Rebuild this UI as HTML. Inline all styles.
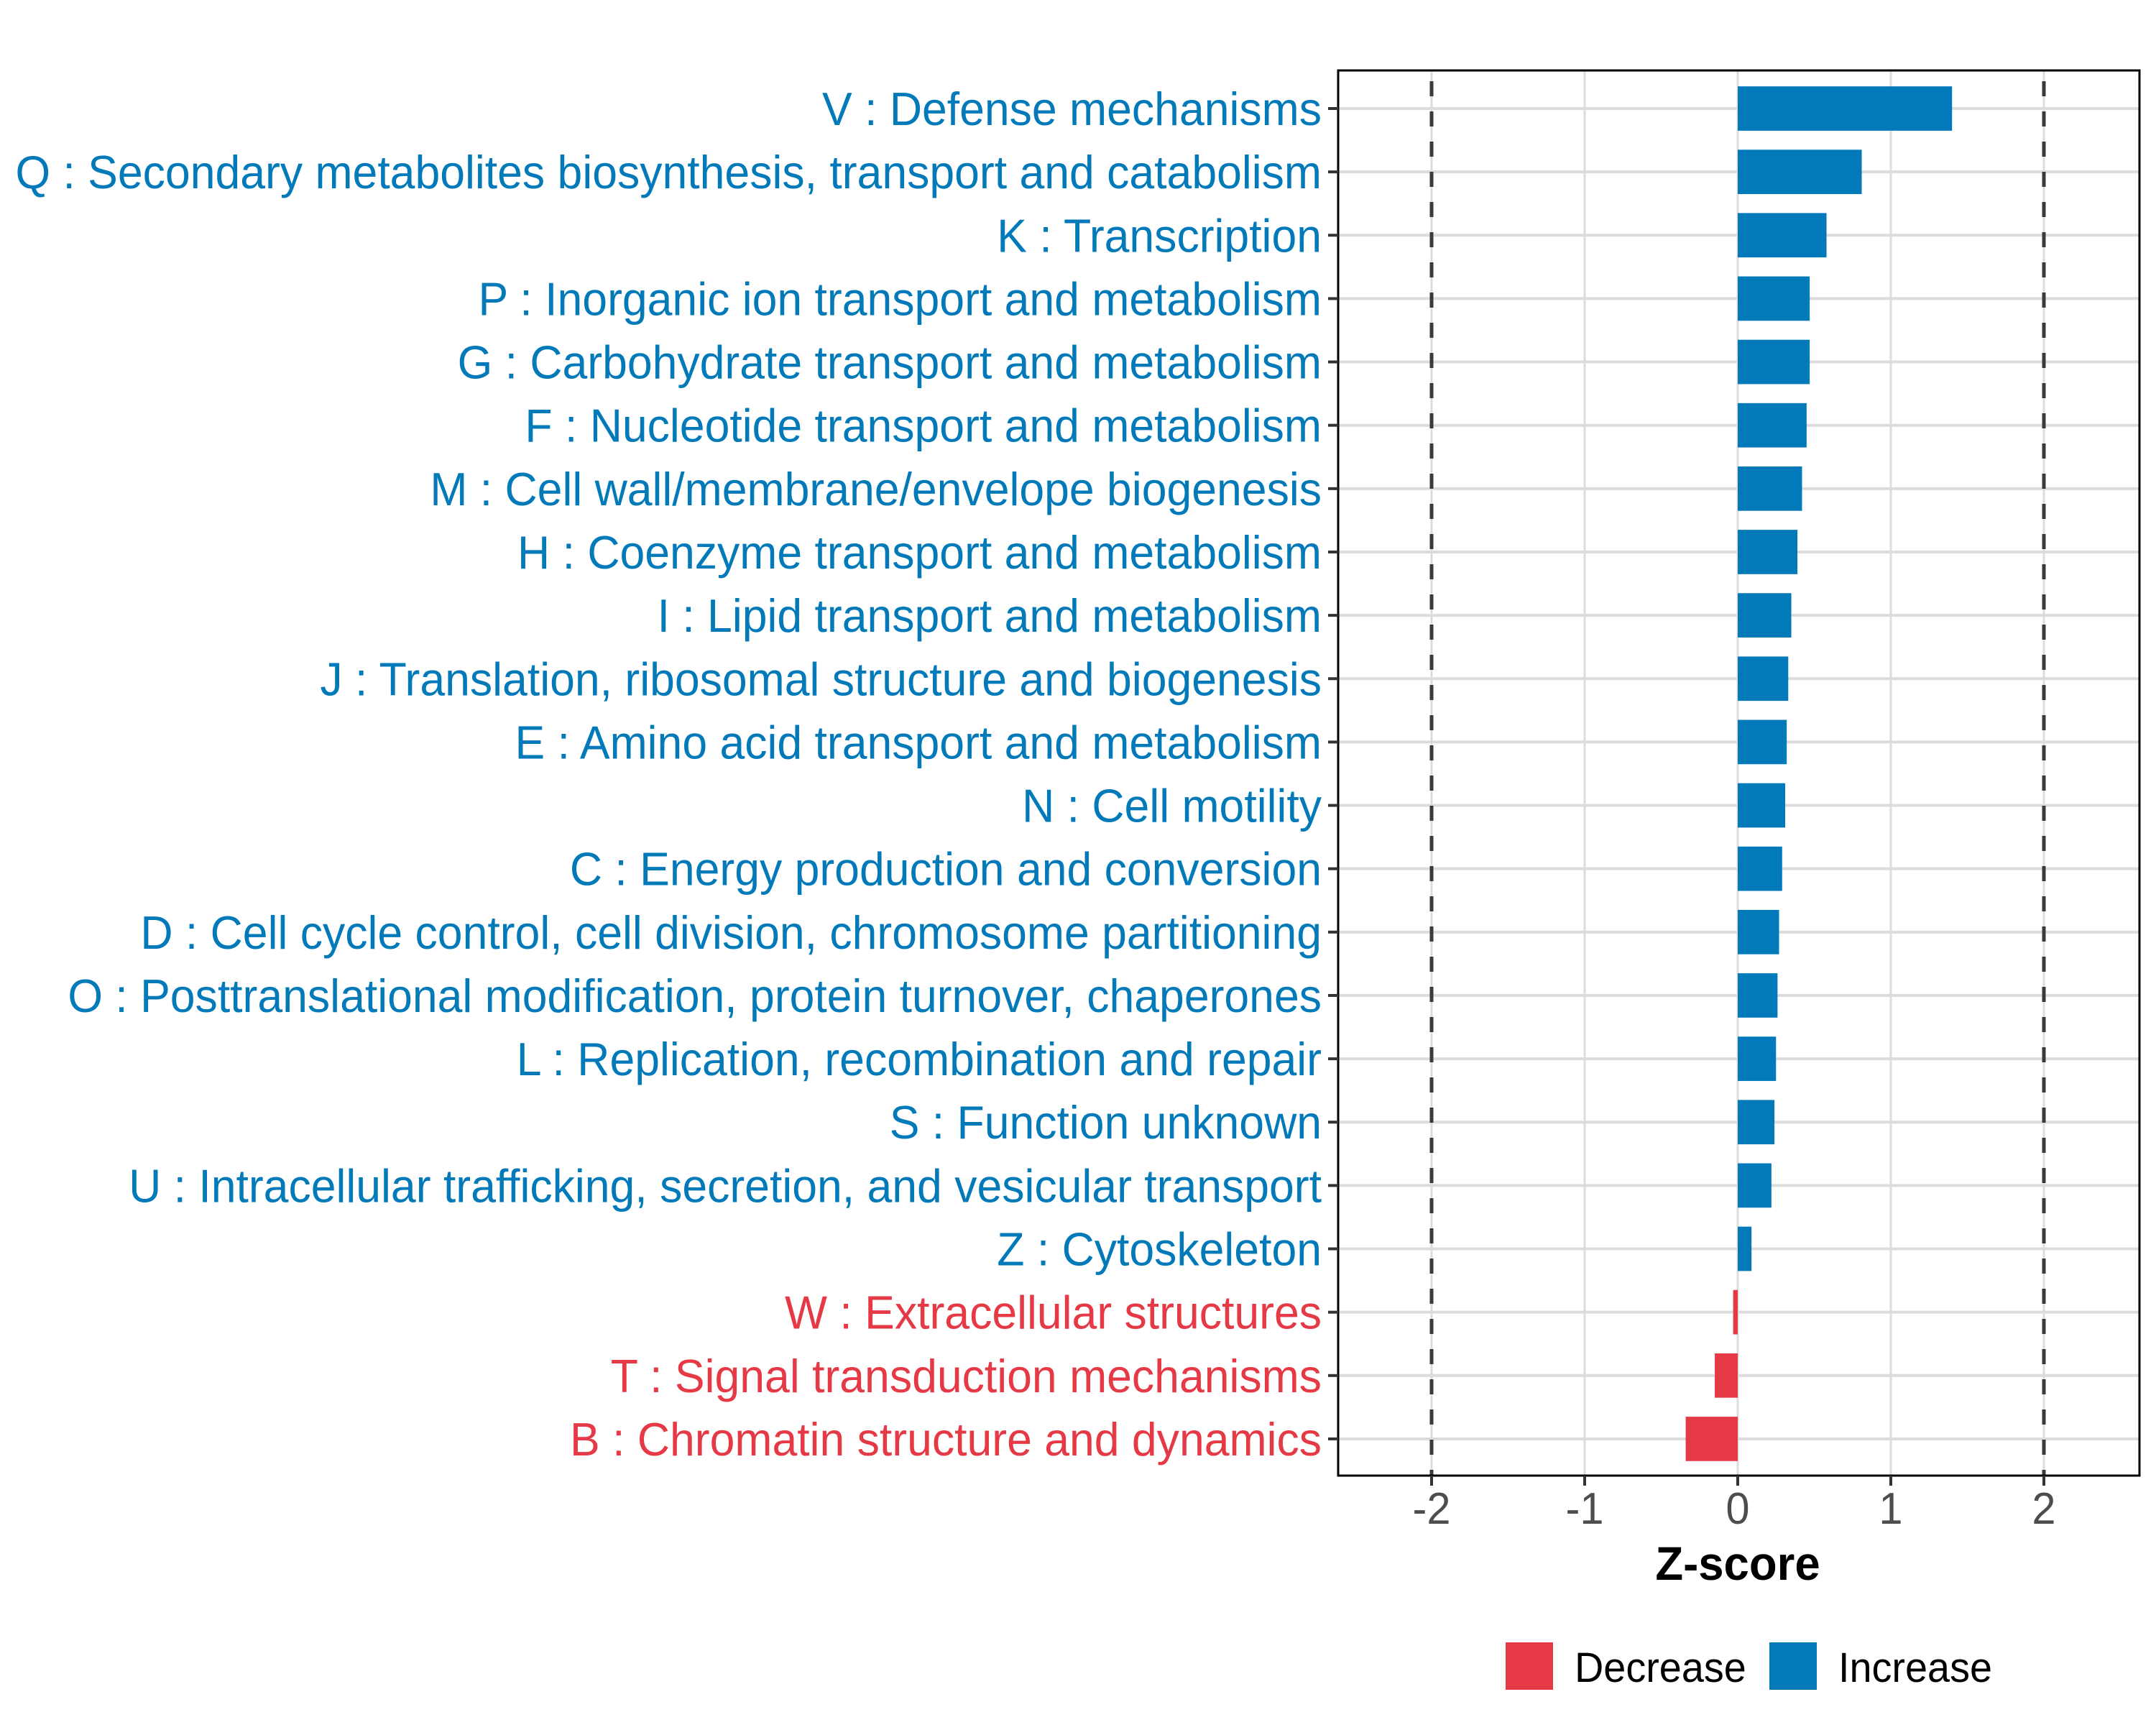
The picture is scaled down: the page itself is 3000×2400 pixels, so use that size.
<!DOCTYPE html>
<html><head><meta charset="utf-8"><style>
html,body{margin:0;padding:0;background:#fff;}
svg{display:block;font-family:"Liberation Sans",Arial,sans-serif;}
</style></head><body>
<svg id="chart" width="3000" height="2400" viewBox="0 0 3000 2400" xmlns="http://www.w3.org/2000/svg">
<rect width="3000" height="2400" fill="#fff"/>
<g id="grid"></g><g id="bars"></g><g id="frame"></g><g id="labels"></g><g id="xaxis"></g>
<text id="xtitle" x="0" y="0" text-anchor="middle" font-size="66" font-weight="bold" fill="#000">Z-score</text>
<g>
<rect x="2095" y="2285" width="66" height="66" fill="#e63946"/>
<text id="legdec" x="0" y="0" font-size="58" fill="#000">Decrease</text>
<rect x="2462" y="2285" width="66" height="66" fill="#0279b9"/>
<text id="leginc" x="0" y="0" font-size="58" fill="#000">Increase</text>
</g>
</svg>
<script>
const categories = ["V : Defense mechanisms","Q : Secondary metabolites biosynthesis, transport and catabolism","K : Transcription","P : Inorganic ion transport and metabolism","G : Carbohydrate transport and metabolism","F : Nucleotide transport and metabolism","M : Cell wall/membrane/envelope biogenesis","H : Coenzyme transport and metabolism","I : Lipid transport and metabolism","J : Translation, ribosomal structure and biogenesis","E : Amino acid transport and metabolism","N : Cell motility","C : Energy production and conversion","D : Cell cycle control, cell division, chromosome partitioning","O : Posttranslational modification, protein turnover, chaperones","L : Replication, recombination and repair","S : Function unknown","U : Intracellular trafficking, secretion, and vesicular transport","Z : Cytoskeleton","W : Extracellular structures","T : Signal transduction mechanisms","B : Chromatin structure and dynamics"];
const values = [1.40,0.81,0.58,0.47,0.47,0.45,0.42,0.39,0.35,0.33,0.32,0.31,0.29,0.27,0.26,0.25,0.24,0.22,0.09,-0.03,-0.15,-0.34];
const xTicks = [-2,-1,0,1,2];
const xTickLabels = ["-2","-1","0","1","2"];
const thresholds = [-2,2];

const NS="http://www.w3.org/2000/svg";
const L=1862,R=2977,T=98,B=2053;
const x0=2418,unit=213;
function xs(v){return x0+v*unit;}
const rowStep=88.14,row0=151;
function ys(i){return row0+i*rowStep;}
function mk(tag,attrs,parent){const e=document.createElementNS(NS,tag);for(const k in attrs)e.setAttribute(k,attrs[k]);parent.appendChild(e);return e;}
const grid=document.getElementById('grid'),bars=document.getElementById('bars'),frame=document.getElementById('frame'),labels=document.getElementById('labels'),xaxis=document.getElementById('xaxis');
xTicks.forEach(t=>{const l=mk('line',{x1:xs(t),x2:xs(t),y1:T,y2:B,stroke:'#dcdcdc','stroke-width':3},grid);

});
categories.forEach((c,i)=>{const l=mk('line',{x1:L,x2:R,y1:ys(i),y2:ys(i),stroke:'#dcdcdc','stroke-width':4},grid);

});
thresholds.forEach(t=>{const l=mk('line',{x1:xs(t),x2:xs(t),y1:T,y2:B,stroke:'#3a3a3a','stroke-width':5,'stroke-dasharray':'21 21','stroke-dashoffset':'-15'},grid);

});
const bh=rowStep*0.7;
values.forEach((v,i)=>{const a=xs(Math.min(0,v)),b=xs(Math.max(0,v));
const r=mk('rect',{x:a,y:ys(i)-bh/2,width:Math.max(b-a,1),height:bh,fill:v<0?'#e63946':'#0279b9'},bars);

});
const fr=mk('rect',{x:L,y:T,width:R-L,height:B-T,fill:'none',stroke:'#000','stroke-width':3},frame);


const texts=[];
categories.forEach((c,i)=>{const tk=mk('line',{x1:L-14,x2:L,y1:ys(i),y2:ys(i),stroke:'#333','stroke-width':4},labels);


const t=mk('text',{x:0,y:0,'text-anchor':'end','font-size':65,fill:values[i]<0?'#e63946':'#0279b9'},labels);
t.textContent=c;


texts.push([t,ys(i)+23]);});
const qw=texts[1][0].getComputedTextLength();const k=qw>0?1818/qw:1;
texts.forEach(([t,y])=>t.setAttribute('transform','translate(1839,'+y+') scale('+k+',1)'));
xTicks.forEach((t,i)=>{const tk=mk('line',{x1:xs(t),x2:xs(t),y1:B,y2:B+14,stroke:'#333','stroke-width':4},xaxis);


const tx=mk('text',{x:0,y:0,'text-anchor':'middle','font-size':62,fill:'#4d4d4d',transform:'translate('+xs(t)+',2120) scale('+k+',1)'},xaxis);
tx.textContent=xTickLabels[i];

});
document.getElementById('xtitle').setAttribute('transform','translate('+xs(0)+',2198) scale('+k+',1)');
document.getElementById('legdec').setAttribute('transform','translate(2191,2340) scale('+k+',1)');
document.getElementById('leginc').setAttribute('transform','translate(2558,2340) scale('+k+',1)');
</script>
</body></html>
